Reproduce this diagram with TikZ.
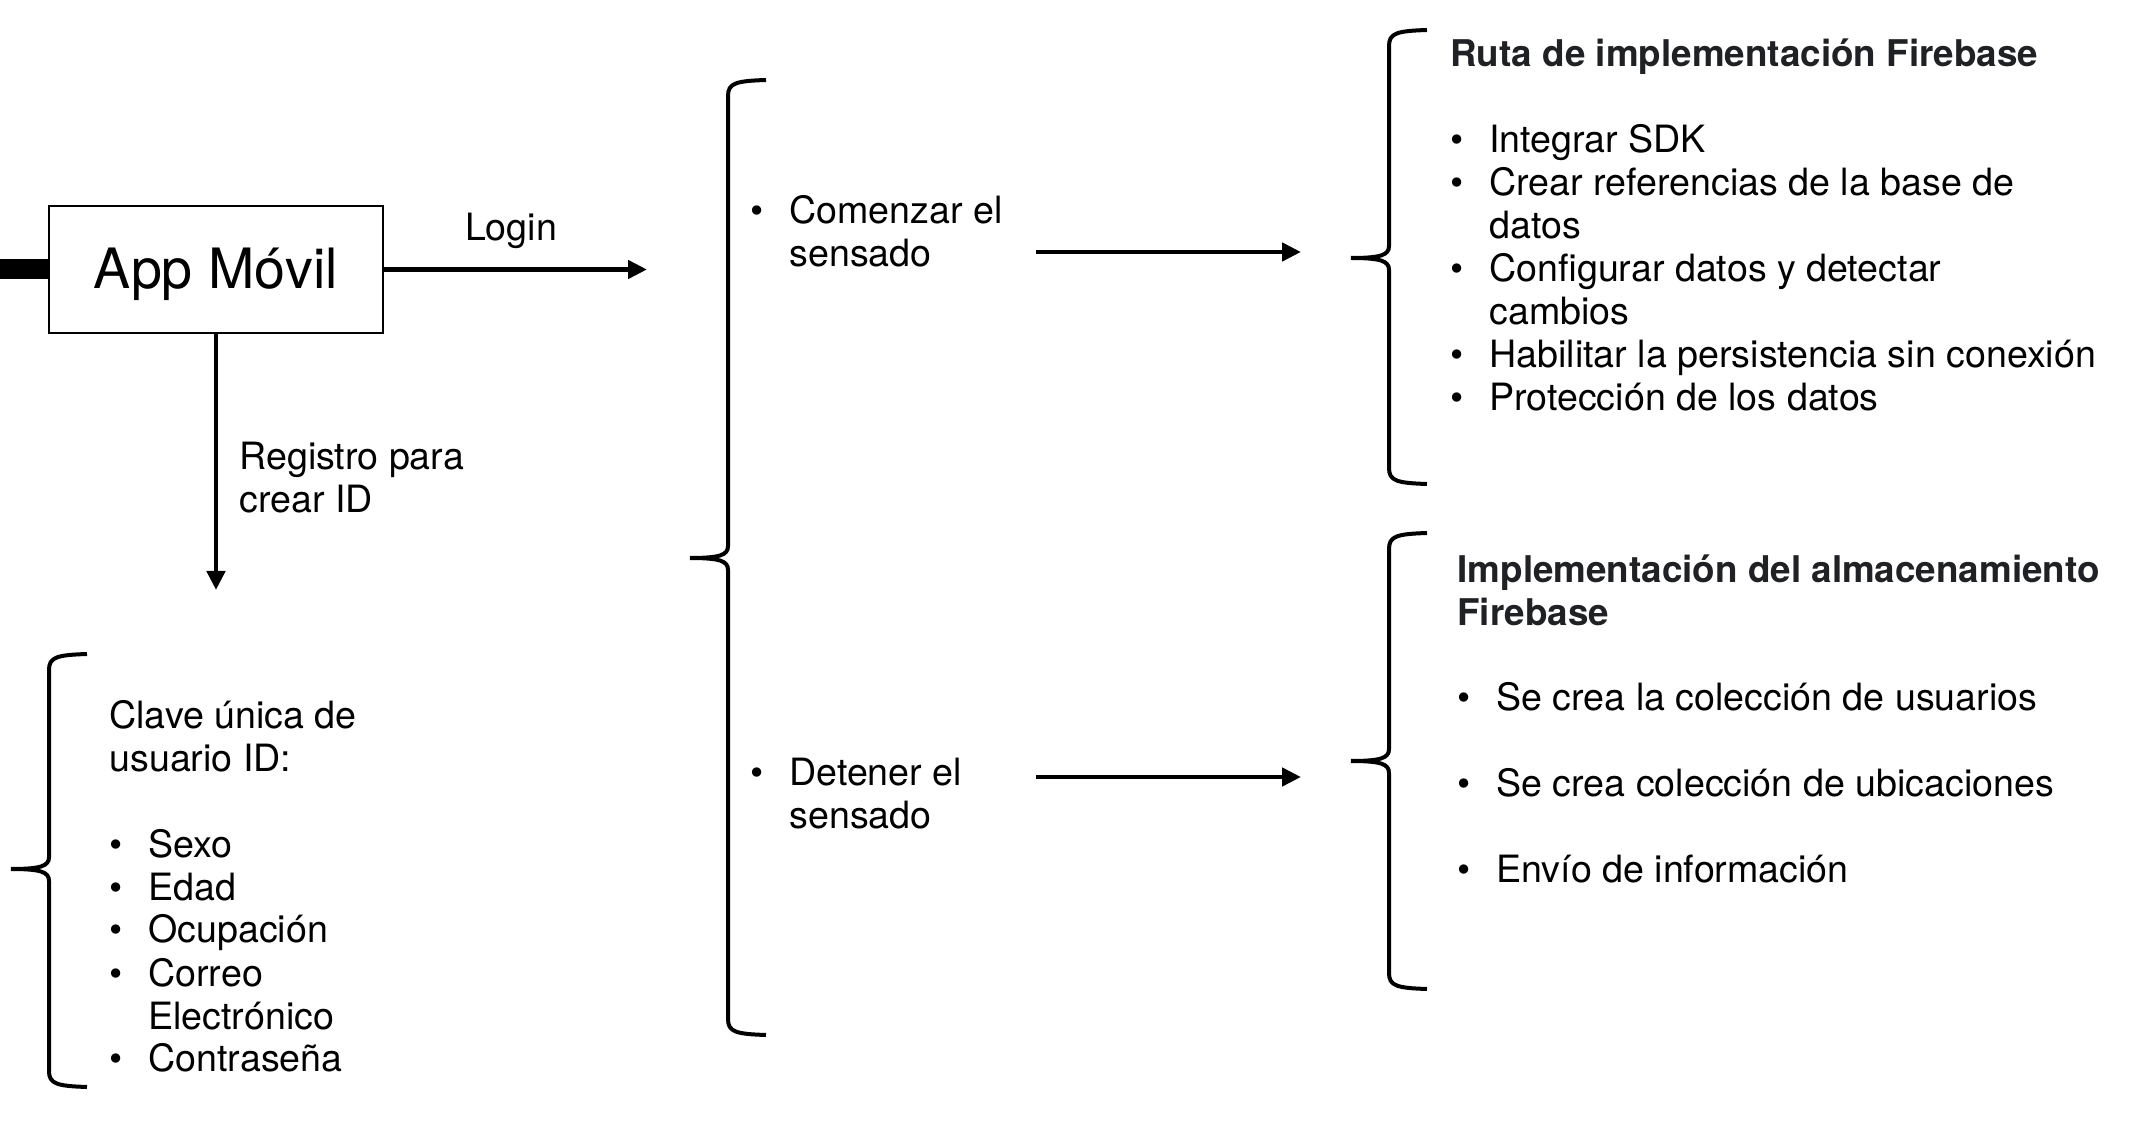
\documentclass[tikz,border=0pt]{standalone}
\usepackage{fontspec}
\setmainfont{TeX Gyre Heros}
\usetikzlibrary{positioning,arrows.meta}
\definecolor{titulo}{HTML}{202124}
\tikzstyle{caja}=[draw, line width=1.35pt, minimum width=167pt, minimum height=63.5pt, inner sep=0pt, text height=24pt, text depth=4.8pt, font=\fontsize{27.8}{32}\selectfont]
\tikzstyle{txt}=[inner sep=0pt, anchor=base west, font=\fontsize{18.8}{21.5}\selectfont]
\tikzstyle{flecha}=[line width=2.3pt, -{Triangle[length=9.5pt,width=9pt]}]
\tikzstyle{llave}=[line width=2pt]
\newcommand{\vin}{\makebox[19.5pt][l]{\textbullet}}
\newcommand{\sig}{\hspace*{19.5pt}}
\newcommand{\titulo}[1]{{\color{titulo}\fontsize{18.4}{21.5}\selectfont\bfseries #1}}
% x of the stem, top, tip, bottom (pixel rows)
\newcommand{\curlybrace}[4]{%
  \draw[llave] (#1+38,#2) .. controls (#1+8,#2+1) and (#1,#2+3) .. (#1,#2+16)
    -- (#1,#3-12) .. controls (#1,#3-3) and (#1-8,#3) .. (#1-38,#3)
    .. controls (#1-8,#3) and (#1,#3+3) .. (#1,#3+12)
    -- (#1,#4-16) .. controls (#1,#4-3) and (#1+8,#4-1) .. (#1+38,#4);}

\begin{document}
\begin{tikzpicture}[x=0.5pt, y=-0.5pt]
		\useasboundingbox (0,0) rectangle (2138,1144);
		\node[caja] (app) at (216,269.5) {App Móvil};
		\coordinate (entrada) at (0,269.5);
		\coordinate (login) at (647,269.5);
		\coordinate (registro) at (216,590);
		\draw[line width=10pt] (entrada) -- (app.west);
		\draw[flecha] (app.east) -- (login);
		\draw[flecha] (app.south) -- (registro);
		\node[txt, anchor=base] (lbllogin) at (511,241) {Login};
		\node[txt] (lblreg) at (239,470) {\begin{tabular}[t]{@{}l@{}}Registro para\\ crear ID\end{tabular}};
		% datos del usuario
		\curlybrace{49}{654}{869}{1087}
		\node[txt] (clave) at (109,728) {\begin{tabular}[t]{@{}l@{}}Clave única de\\ usuario ID:\\ \\ \vin Sexo\\ \vin Edad\\ \vin Ocupación\\ \vin Correo\\ \sig Electrónico\\ \vin Contraseña\end{tabular}};
		% sensado
		\curlybrace{728}{80}{558}{1035}
		\node[txt] (comenzar) at (750,224) {\begin{tabular}[t]{@{}l@{}}\vin Comenzar el\\ \sig sensado\end{tabular}};
		\node[txt] (detener) at (750,785) {\begin{tabular}[t]{@{}l@{}}\vin Detener el\\ \sig sensado\end{tabular}};
		\coordinate (ini1) at (1036,252);
		\coordinate (fin1) at (1301,252);
		\coordinate (ini2) at (1036,777);
		\coordinate (fin2) at (1301,777);
		\draw[flecha] (ini1) -- (fin1);
		\draw[flecha] (ini2) -- (fin2);
		% Firebase
		\curlybrace{1389}{30}{258}{484}
		\curlybrace{1389}{533}{761}{989}
		\node[txt] (ruta) at (1450,67) {\begin{tabular}[t]{@{}l@{}}\titulo{Ruta de implementación Firebase}\\ \\ \vin Integrar SDK\\ \vin Crear referencias de la base de\\ \sig datos\\ \vin Configurar datos y detectar\\ \sig cambios\\ \vin Habilitar la persistencia sin conexión\\ \vin Protección de los datos\end{tabular}};
		\node[txt] (almacen) at (1457,582) {\begin{tabular}[t]{@{}l@{}}\titulo{Implementación del almacenamiento}\\ \titulo{Firebase}\\ \\ \vin Se crea la colección de usuarios\\ \\ \vin Se crea colección de ubicaciones\\ \\ \vin Envío de información\end{tabular}};
	\end{tikzpicture}
\end{document}
